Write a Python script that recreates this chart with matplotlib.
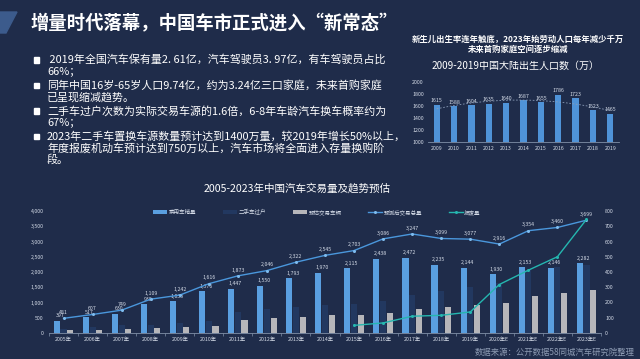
import numpy as np
import matplotlib
matplotlib.use("Agg")
import matplotlib.pyplot as plt
from matplotlib.patches import Polygon, Rectangle
from matplotlib.ticker import FuncFormatter

plt.rcParams['font.family'] = ['Noto Sans CJK SC', 'DejaVu Sans']

# ---- data ----
title = "增量时代落幕，中国车市正式进入“新常态”"
bullets = [
    [" 2019年全国汽车保有量2. 61亿，汽车驾驶员3. 97亿，有车驾驶员占比", "66%；"],
    ["同年中国16岁-65岁人口9.74亿，约为3.24亿三口家庭，未来首购家庭", "已呈现缩减趋势。"],
    ["二手车过户次数为实际交易车源的1.6倍，6-8年车龄汽车换车概率约为", "67%；"],
    ["2023年二手车置换车源数量预计达到1400万量，较2019年增长50%以上，",
     "年度报废机动车预计达到750万以上，汽车市场将全面进入存量换购阶", "段。"],
]

birth_note = ["新生儿出生率连年触底，2023年始劳动人口每年减少千万", "未来首购家庭空间逐步缩减"]
birth_title = "2009-2019中国大陆出生人口数（万）"
birth_years = ['2009', '2010', '2011', '2012', '2013', '2014', '2015', '2016', '2017', '2018', '2019']
births = [1615, 1588, 1604, 1635, 1640, 1687, 1655, 1786, 1723, 1523, 1465]

trade_title = "2005-2023年中国汽车交易量及趋势预估"
years = ['2005年', '2006年', '2007年', '2008年', '2009年', '2010年', '2011年', '2012年',
         '2013年', '2014年', '2015年', '2016年', '2017年', '2018年', '2019年',
         '2020年E', '2021年E', '2022年E', '2023年E']
new_car = [397, 517, 630, 938, 1033, 1376, 1447, 1550, 1793, 1970,
           2115, 2438, 2472, 2235, 2144, 1930, 2153, 2146, 2282]
used_transfer = [145, 191, 264, 274, 334, 385, 682, 794, 846, 920,
                 941, 1039, 1240, 1382, 1492, 1640, 2060, 2150, 2230]
est_trade = [84, 90, 119, 171, 209, 240, 426, 496, 529, 575,
             588, 648, 775, 864, 933, 986, 1201, 1314, 1417]
total_trade = [481, 607, 749, 1109, 1242, 1616, 1873, 2046, 2322, 2545,
               2703, 3086, 3247, 3099, 3077, 2916, 3354, 3460, 3699]
scrap = [np.nan] * 10 + [50, 66, 110, 116, 138, 318, 412, 500, 745]
series_names = ['乘用车销量', '二手车过户', '预估交易车辆', '预测后交易总量', '报废量']
source = "数据来源：公开数据58同城汽车研究院整理"

W, H = 640, 359
BG = '#1f2c4a'
LIGHT = '#d5dce8'


def fx(px):
    return px / W


def fy(py):
    return 1 - py / H


fig = plt.figure(figsize=(6.4, 3.59), dpi=100, facecolor=BG)

# decoration + title
fig.patches.append(Polygon([[fx(0), fy(12)], [fx(17), fy(12)], [fx(6), fy(33)], [fx(0), fy(33)]],
                           closed=True, transform=fig.transFigure, color='#3c5b8c'))
fig.text(fx(31), fy(24), title, fontsize=13.2, weight='bold', color='white', va='center')

# bullets
y = 60
for lines in bullets:
    fig.patches.append(Rectangle((fx(33.5), fy(y + 2.8)), 5.6 / W, 5.6 / H,
                                 transform=fig.transFigure, color='white'))
    for ln in lines:
        fig.text(fx(47), fy(y), ln, fontsize=7.9, color='white', va='center')
        y += 11.5
    y += 2.5

# ---- births chart ----
fig.text(fx(518), fy(39), birth_note[0], fontsize=6, weight='bold', color='white', ha='center', va='center')
fig.text(fx(518), fy(49), birth_note[1], fontsize=6, weight='bold', color='white', ha='center', va='center')
fig.text(fx(516), fy(66), birth_title, fontsize=7.2, color='white', ha='center', va='center')

ax1 = fig.add_axes([fx(428), fy(141.7), 191 / W, 60 / H])
ax1.set_facecolor('none')
bx = np.arange(len(births))
ax1.bar(bx, births, width=0.36, color='#4f93d8', zorder=2)
for i, v in enumerate(births):
    ax1.text(i, v + 30, str(v), ha='center', va='bottom', fontsize=3.8, color=LIGHT)
# dotted trend line like the spreadsheet original
coef = np.polyfit(bx, births, 2)
xs = np.linspace(0, len(births) - 1, 50)
ax1.plot(xs, np.polyval(coef, xs), ls=(0, (2, 2)), lw=0.6, color='#8a9cb8', zorder=3)
ax1.set_ylim(1000, 2000)
ax1.set_xlim(-0.5, len(births) - 0.5)
ax1.set_yticks(range(1000, 2001, 200))
ax1.set_xticks(bx)
ax1.set_xticklabels(birth_years)
ax1.tick_params(length=0, labelsize=3.8, colors=LIGHT, pad=3)
for s in ['top', 'right', 'left']:
    ax1.spines[s].set_visible(False)
ax1.spines['bottom'].set_color('#8090a8')
ax1.spines['bottom'].set_linewidth(0.6)

# ---- trade chart ----
fig.text(fx(297), fy(188), trade_title, fontsize=7.6, color='white', ha='center', va='center')

ax = fig.add_axes([fx(49), fy(333), 552 / W, 122 / H])
ax.set_facecolor('none')
x = np.arange(len(years))
bw = 0.21
b1 = ax.bar(x - 0.23, new_car, bw, color='#5a9fe0', label=series_names[0], zorder=2)
b2 = ax.bar(x, used_transfer, bw, color='#223860', label=series_names[1], zorder=2)
b3 = ax.bar(x + 0.23, est_trade, bw, color='#b6b6ba', label=series_names[2], zorder=2)
l1, = ax.plot(x, total_trade, color='#4a97dc', lw=1, marker='o', ms=2.2,
              markerfacecolor='#7fbcee', markeredgewidth=0, label=series_names[3], zorder=4)
for i in range(len(years)):
    ax.text(i - 0.1, new_car[i] + 80, f"{new_car[i]:,}", ha='center', va='bottom', fontsize=3.8, color=LIGHT)
    ax.text(i, total_trade[i] + 110, f"{total_trade[i]:,}", ha='center', va='bottom', fontsize=3.8, color=LIGHT)
ax.set_ylim(0, 4000)
ax.set_xlim(-0.5, len(years) - 0.5)
ax.set_yticks(range(0, 4001, 500))
ax.yaxis.set_major_formatter(FuncFormatter(lambda v, p: f"{int(v):,}"))
ax.set_xticks(x)
ax.set_xticklabels(years)
ax.set_xticks(np.arange(-0.5, len(years)), minor=True)
ax.tick_params(axis='x', which='major', length=0, labelsize=3.8, colors=LIGHT, pad=3)
ax.tick_params(axis='x', which='minor', length=2, color='#8090a8', width=0.5)
ax.tick_params(axis='y', length=0, labelsize=3.8, colors=LIGHT, pad=4)
for s in ['top', 'right', 'left']:
    ax.spines[s].set_visible(False)
ax.spines['bottom'].set_color('#8090a8')
ax.spines['bottom'].set_linewidth(0.6)

ax2 = ax.twinx()
l2, = ax2.plot(x, scrap, color='#25b7b0', lw=1, marker='o', ms=2.2, markeredgewidth=0,
               label=series_names[4], zorder=4)
ax2.set_ylim(0, 800)
ax2.set_yticks(range(0, 801, 100))
ax2.tick_params(axis='y', length=0, labelsize=3.8, colors=LIGHT, pad=3)
for s in ['top', 'left', 'bottom', 'right']:
    ax2.spines[s].set_visible(False)

leg = fig.legend([b1, b2, b3, l1, l2], series_names, loc='center', ncol=5,
                 bbox_to_anchor=(fx(317), fy(212)), bbox_transform=fig.transFigure,
                 frameon=False, fontsize=4, handlelength=2.5, handletextpad=0.3,
                 columnspacing=4.8, handleheight=0.5)
for t in leg.get_texts():
    t.set_color(LIGHT)

fig.text(fx(635), fy(352), source, fontsize=6, color='#8d9bb3', ha='right', va='center')

fig.savefig('out.png', dpi=100, facecolor=BG)
